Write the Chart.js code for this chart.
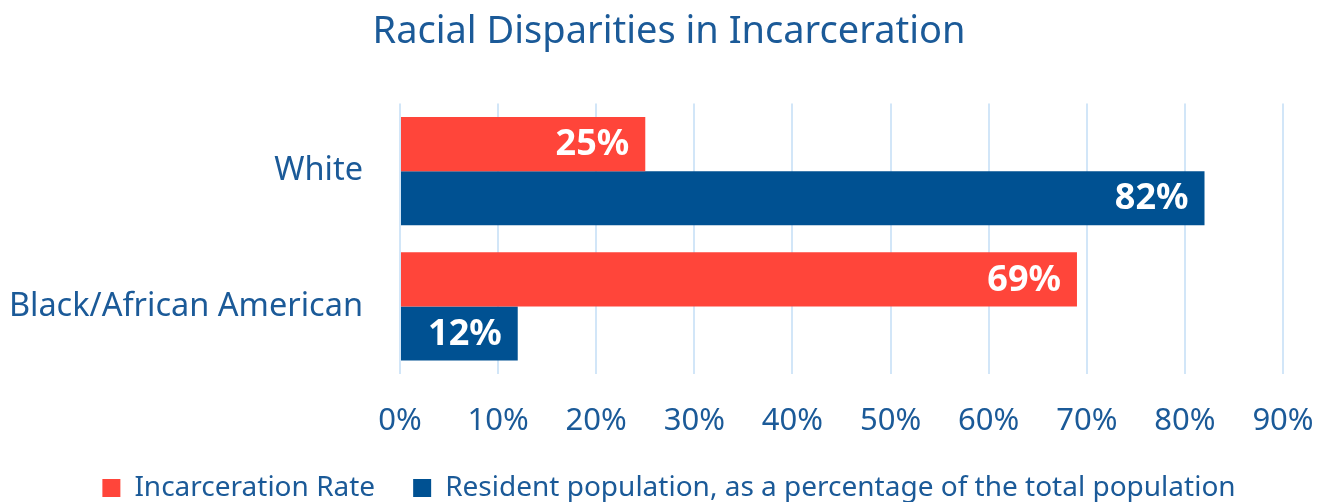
<!DOCTYPE html>
<html>
<head>
<meta charset="utf-8">
<script src="https://cdn.jsdelivr.net/npm/chart.js@4/dist/chart.umd.min.js"></script>
<style>
  html, body { margin: 0; padding: 0; background: #fff; }
  #wrap { width: 1328px; height: 502px; position: relative; }
</style>
</head>
<body>
<div id="wrap"><canvas id="grafico"></canvas></div>
<script>
var categorias = ['White', 'Black/African American'];
var tasaEncarcelamiento = [25, 69];
var poblacionResidente = [82, 12];
var nombresSeries = ['Incarceration Rate', 'Resident population, as a percentage of the total population'];
var titulo = 'Racial Disparities in Incarceration';

var rojo = '#FF453A';
var azul = '#005192';
var textoAzul = '#1B5A98';
var fuente = "'Noto Sans', 'Open Sans', sans-serif";

// etiquetas blancas dentro del final de cada barra
var etiquetasBarras = {
  id: 'etiquetasBarras',
  afterDatasetsDraw: function(chart) {
    var ctx = chart.ctx;
    ctx.save();
    ctx.fillStyle = '#ffffff';
    ctx.font = 'bold 36px ' + fuente;
    ctx.textAlign = 'right';
    ctx.textBaseline = 'middle';
    chart.data.datasets.forEach(function(ds, i) {
      chart.getDatasetMeta(i).data.forEach(function(bar, j) {
        ctx.fillText(ds.data[j] + '%', bar.x - 16, bar.y + 1);
      });
    });
    ctx.restore();
  }
};

new Chart(document.getElementById('grafico'), {
  type: 'bar',
  data: {
    labels: categorias,
    datasets: [{
      label: nombresSeries[0],
      data: tasaEncarcelamiento,
      backgroundColor: rojo
    }, {
      label: nombresSeries[1],
      data: poblacionResidente,
      backgroundColor: azul
    }]
  },
  options: {
    indexAxis: 'y',
    responsive: true,
    maintainAspectRatio: false,
    animation: false,
    categoryPercentage: 0.8,
    barPercentage: 1,
    layout: { padding: { left: 10, right: 0, top: 0, bottom: -10 } },
    plugins: {
      title: {
        display: true,
        text: titulo,
        color: textoAzul,
        font: { family: fuente, size: 38, weight: 'normal' },
        padding: { top: 9, bottom: 49 }
      },
      legend: {
        position: 'bottom',
        labels: {
          color: textoAzul,
          font: { family: fuente, size: 28 },
          boxWidth: 18,
          boxHeight: 18,
          padding: 38
        }
      },
      tooltip: { enabled: false }
    },
    scales: {
      x: {
        min: 0,
        max: 90,
        afterFit: function(escala) {
          escala.height = 62;
          escala.paddingRight = 45;
        },
        ticks: {
          stepSize: 10,
          color: textoAzul,
          padding: 29,
          font: { family: fuente, size: 31 },
          callback: function(v) { return v + '%'; }
        },
        grid: { color: '#D2E6F8', lineWidth: 2, drawTicks: false },
        border: { display: false }
      },
      y: {
        afterFit: function(escala) { escala.width = 390; },
        ticks: {
          color: textoAzul,
          padding: 37,
          font: { family: fuente, size: 32.5 }
        },
        grid: { display: false, drawTicks: false },
        border: { display: false }
      }
    }
  },
  plugins: [etiquetasBarras]
});
</script>
</body>
</html>
